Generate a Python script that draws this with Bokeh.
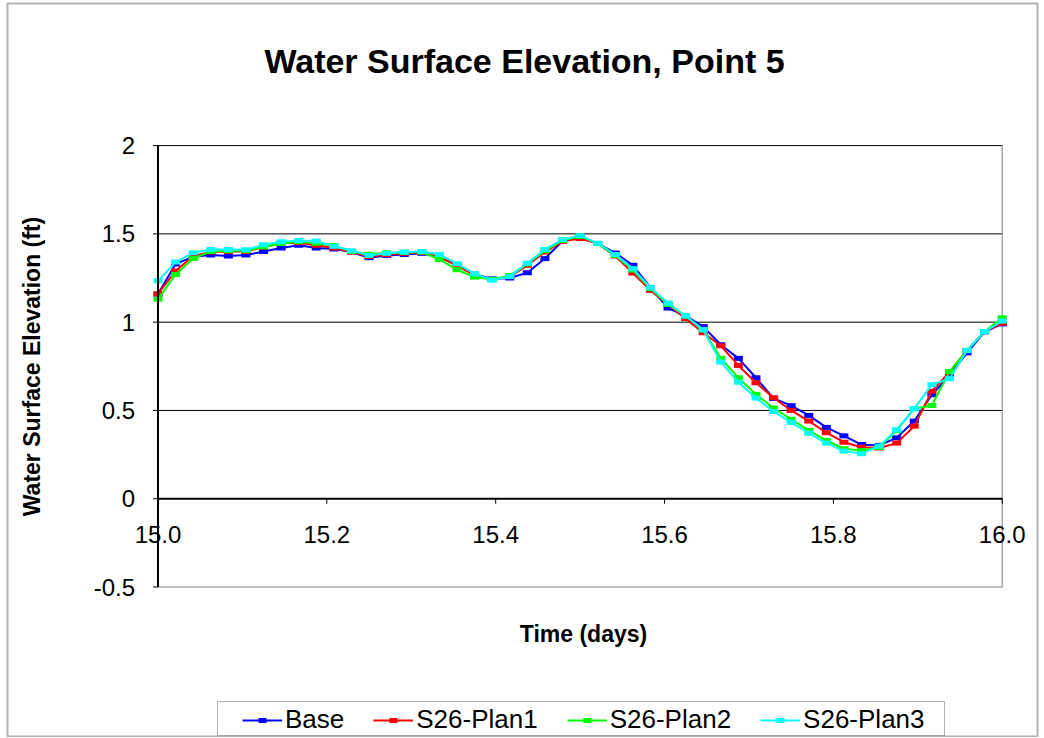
from math import pi
from bokeh.plotting import figure
from bokeh.models import Legend, LegendItem, Label, BoxAnnotation
from bokeh.core.properties import value
from bokeh.embed import file_html
from bokeh.resources import INLINE

# time steps: every half hour from day 15.0 to day 16.0
time_days = [15 + k / 48 for k in range(49)]

base = [1.16, 1.33, 1.37, 1.38, 1.375, 1.38, 1.40, 1.42, 1.435, 1.42,
        1.415, 1.397, 1.365, 1.378, 1.383, 1.39, 1.368, 1.325, 1.272, 1.245,
        1.25, 1.28, 1.36, 1.46, 1.487, 1.445, 1.392, 1.322, 1.195, 1.08,
        1.035, 0.975, 0.872, 0.795, 0.685, 0.568, 0.527, 0.472, 0.404, 0.356,
        0.307, 0.302, 0.345, 0.44, 0.589, 0.698, 0.826, 0.945, 0.99]
plan1 = [1.16, 1.29, 1.375, 1.397, 1.40, 1.40, 1.425, 1.447, 1.45, 1.435,
         1.42, 1.397, 1.372, 1.382, 1.39, 1.395, 1.37, 1.32, 1.265, 1.242,
         1.258, 1.322, 1.397, 1.458, 1.474, 1.445, 1.375, 1.278, 1.18, 1.10,
         1.02, 0.94, 0.866, 0.755, 0.657, 0.572, 0.50, 0.44, 0.374, 0.32,
         0.292, 0.287, 0.315, 0.411, 0.609, 0.717, 0.84, 0.947, 0.994]
plan2 = [1.13, 1.27, 1.36, 1.40, 1.405, 1.405, 1.425, 1.445, 1.455, 1.447,
         1.434, 1.40, 1.385, 1.393, 1.395, 1.398, 1.355, 1.297, 1.255, 1.242,
         1.264, 1.33, 1.405, 1.462, 1.487, 1.445, 1.378, 1.295, 1.19, 1.10,
         1.035, 0.957, 0.795, 0.685, 0.591, 0.513, 0.45, 0.387, 0.33, 0.283,
         0.273, 0.29, 0.387, 0.51, 0.528, 0.72, 0.84, 0.947, 1.025]
plan3 = [1.234, 1.34, 1.393, 1.412, 1.412, 1.41, 1.438, 1.455, 1.463, 1.459,
         1.43, 1.405, 1.378, 1.39, 1.398, 1.40, 1.383, 1.331, 1.274, 1.238,
         1.258, 1.334, 1.412, 1.468, 1.49, 1.447, 1.383, 1.303, 1.195, 1.108,
         1.035, 0.957, 0.774, 0.66, 0.57, 0.494, 0.432, 0.371, 0.315, 0.27,
         0.255, 0.298, 0.391, 0.51, 0.646, 0.68, 0.84, 0.947, 1.006]

series_names = ["Base", "S26-Plan1", "S26-Plan2", "S26-Plan3"]
series_values = [base, plan1, plan2, plan3]
series_colors = ["#0000FF", "#FF0000", "#00FF00", "#00FFFF"]

x_ticks = [15.0, 15.2, 15.4, 15.6, 15.8, 16.0]
x_tick_labels = ["15.0", "15.2", "15.4", "15.6", "15.8", "16.0"]
y_ticks = [-0.5, 0.0, 0.5, 1.0, 1.5, 2.0]
y_tick_labels = ["-0.5", "0", "0.5", "1", "1.5", "2"]
y_grid_ticks = [0.5, 1.0, 1.5, 2.0]

title_text = "Water Surface Elevation, Point 5"
x_title = "Time (days)"
y_title = "Water Surface Elevation (ft)"

FONT = "Liberation Sans"
W, H = 1040, 737

# The drawing frame covers the whole canvas; the plotting box (15..16, -0.5..2)
# sits inside it, so that texts lying outside the box are not clipped.
p = figure(width=W, height=H,
           x_range=(14.81343, 16.04537), y_range=(-1.35221, 2.82163),
           output_backend="svg", toolbar_location=None,
           x_axis_location=None, y_axis_location=None, min_border=0)
p.background_fill_color = "white"
p.border_fill_color = "white"
p.outline_line_color = None
p.xgrid.visible = False
p.ygrid.visible = False

x0, x1 = x_ticks[0], x_ticks[-1]
ybot, ytop = y_ticks[0], y_ticks[-1]

# outer chart border
p.add_layout(BoxAnnotation(left=7, right=W - 3, bottom=1, top=H - 3,
                           left_units="screen", right_units="screen",
                           bottom_units="screen", top_units="screen",
                           fill_alpha=0, line_color="black", line_width=2))

# horizontal gridlines inside the plotting box
p.segment(x0=[x0] * len(y_grid_ticks), x1=[x1] * len(y_grid_ticks),
          y0=y_grid_ticks, y1=y_grid_ticks, line_color="black", line_width=1)
# plot-area border (right and bottom, grey)
p.segment(x0=[x0, x1], x1=[x1, x1], y0=[ybot, ybot], y1=[ybot, ytop],
          line_color="#808080", line_width=1)

# data
items = []
for name, vals, color in zip(series_names, series_values, series_colors):
    ln = p.line(time_days, vals, line_color=color, line_width=2)
    mk = p.scatter(time_days, vals, marker="dash", size=9, line_color=color, line_width=5)
    items.append(LegendItem(label=name, renderers=[ln, mk]))

# axis lines: y axis at x = 15, x axis crossing at y = 0
p.segment(x0=[x0, x0], x1=[x0, x1], y0=[ybot, 0], y1=[ytop, 0],
          line_color="black", line_width=2)
# tick marks
p.ray(x=[x0] * len(y_ticks), y=y_ticks, length=5, length_units="screen",
      angle=pi, line_color="black", line_width=1)
p.ray(x=x_ticks, y=[0] * len(x_ticks), length=5, length_units="screen",
      angle=-pi / 2, line_color="black", line_width=1)

# tick labels
p.text(x=[x0] * len(y_ticks), y=y_ticks, text=y_tick_labels, x_offset=-23,
       text_align="right", text_baseline="middle", text_font=value(FONT),
       text_font_size="24px", text_color="black")
p.text(x=x_ticks, y=[0] * len(x_ticks), text=x_tick_labels, y_offset=27,
       text_align="center", text_baseline="top", text_font=value(FONT),
       text_font_size="24px", text_color="black")

# titles (screen px from the canvas' bottom-left)
p.add_layout(Label(x=524, y=H - 60, x_units="screen", y_units="screen", text=title_text,
                   text_align="center", text_baseline="middle", text_font=FONT,
                   text_font_size="34px", text_font_style="bold", text_color="black"))
p.add_layout(Label(x=583, y=H - 633, x_units="screen", y_units="screen", text=x_title,
                   text_align="center", text_baseline="middle", text_font=FONT,
                   text_font_size="23px", text_font_style="bold", text_color="black"))
p.add_layout(Label(x=31, y=H - 366, x_units="screen", y_units="screen", text=y_title,
                   angle=pi / 2, text_align="center", text_baseline="middle",
                   text_font=FONT, text_font_size="23px", text_font_style="bold",
                   text_color="black"))

# legend box and entries
p.add_layout(BoxAnnotation(left=217, right=944, bottom=H - 735, top=H - 701,
                           left_units="screen", right_units="screen",
                           bottom_units="screen", top_units="screen",
                           fill_color="white", fill_alpha=1.0,
                           line_color="black", line_width=1))
legend = Legend(items=items, orientation="horizontal", location=(242, H - 735),
                padding=2, spacing=29, margin=0, glyph_width=40, glyph_height=20,
                label_standoff=3, label_text_font=FONT, label_text_font_size="26px",
                label_text_color="black", border_line_color=None,
                background_fill_alpha=0.0)
p.add_layout(legend, "center")

open("out.html", "w").write(file_html(p, INLINE))
